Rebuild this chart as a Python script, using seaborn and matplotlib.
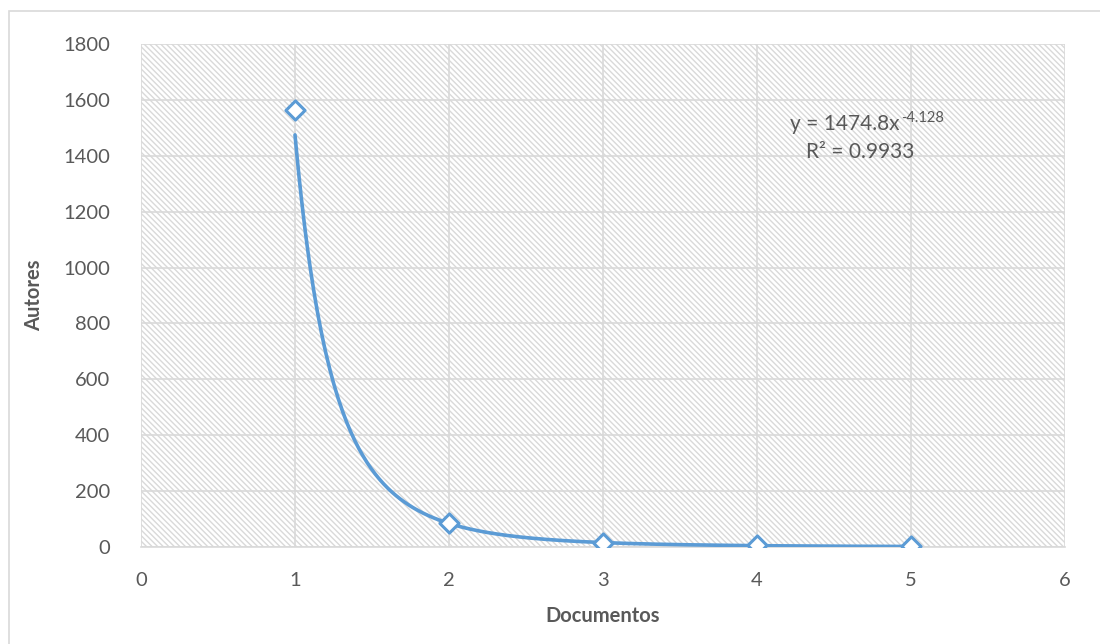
import numpy as np
import pandas as pd
import matplotlib
matplotlib.use("Agg")
import matplotlib.pyplot as plt
from matplotlib.patches import Rectangle
import seaborn as sns

# Data
documentos = [1, 2, 3, 4, 5]
autores = [1565, 86, 13, 6, 2]
trend_a = 1474.8
trend_b = -4.128
r2 = 0.9933
x_ticks = [0, 1, 2, 3, 4, 5, 6]
y_ticks = [0, 200, 400, 600, 800, 1000, 1200, 1400, 1600, 1800]

sns.set_theme(style="white")
plt.rcParams['font.family'] = ['Lato', 'DejaVu Sans']
plt.rcParams['hatch.color'] = '#d9d9d9'
plt.rcParams['hatch.linewidth'] = 1.0

fig = plt.figure(figsize=(11, 6.44), dpi=100)
ax = fig.add_axes([141/1100, 1-547/644, (1065-141)/1100, (547-44)/644])

# hatched plot area background
ax.patch.set_facecolor('white')
ax.patch.set_hatch('\\\\\\\\\\\\')
ax.patch.set_edgecolor('#d9d9d9')

blue = '#5b9bd5'
grey = '#595959'
df = pd.DataFrame({'Documentos': documentos, 'Autores': autores})

# trend line
xs = np.linspace(documentos[0], documentos[-1], 300)
trend = pd.DataFrame({'x': xs, 'y': trend_a * xs ** trend_b})
sns.lineplot(data=trend, x='x', y='y', ax=ax, color=blue, linewidth=2.6, zorder=3)

sns.scatterplot(data=df, x='Documentos', y='Autores', ax=ax, marker='D', s=95,
                facecolor='white', edgecolor=blue, linewidth=2.2, zorder=4)

ax.set_xlim(0, 6)
ax.set_ylim(0, 1800)
ax.set_xticks(x_ticks)
ax.set_yticks(y_ticks)
ax.grid(True, color='#d9d9d9', linewidth=1.2)
ax.set_axisbelow(True)
for s in ['top', 'right', 'left']:
    ax.spines[s].set_visible(False)
ax.spines['bottom'].set_color('#d9d9d9')
ax.spines['bottom'].set_linewidth(1.2)
ax.tick_params(axis='both', length=0, labelsize=14.5, labelcolor=grey)
ax.tick_params(axis='y', pad=22)
ax.tick_params(axis='x', pad=18)

ax.set_xlabel('Documentos', fontsize=14.5, fontweight='bold', color=grey, labelpad=12)
ax.set_ylabel('Autores', fontsize=14.5, fontweight='bold', color=grey, labelpad=14)

# trendline label
t1 = ax.text(4.57, 1514, f'y = {trend_a}x', fontsize=15, color=grey,
             ha='center', va='center')
ax.annotate(f'{trend_b}', xy=(1, 1), xycoords=t1, xytext=(1, 2),
            textcoords='offset points', fontsize=10.5, color=grey,
            ha='left', va='top')
ax.text(4.67, 1413, f'R² = {r2}', fontsize=15, color=grey, ha='center', va='center')

fig.patches.append(Rectangle((9/1100, -0.01), 1.02, 1 - 11/644 + 0.01,
                             transform=fig.transFigure, fill=False,
                             edgecolor='#d9d9d9', linewidth=1.2))

fig.savefig('out.png', dpi=100)
